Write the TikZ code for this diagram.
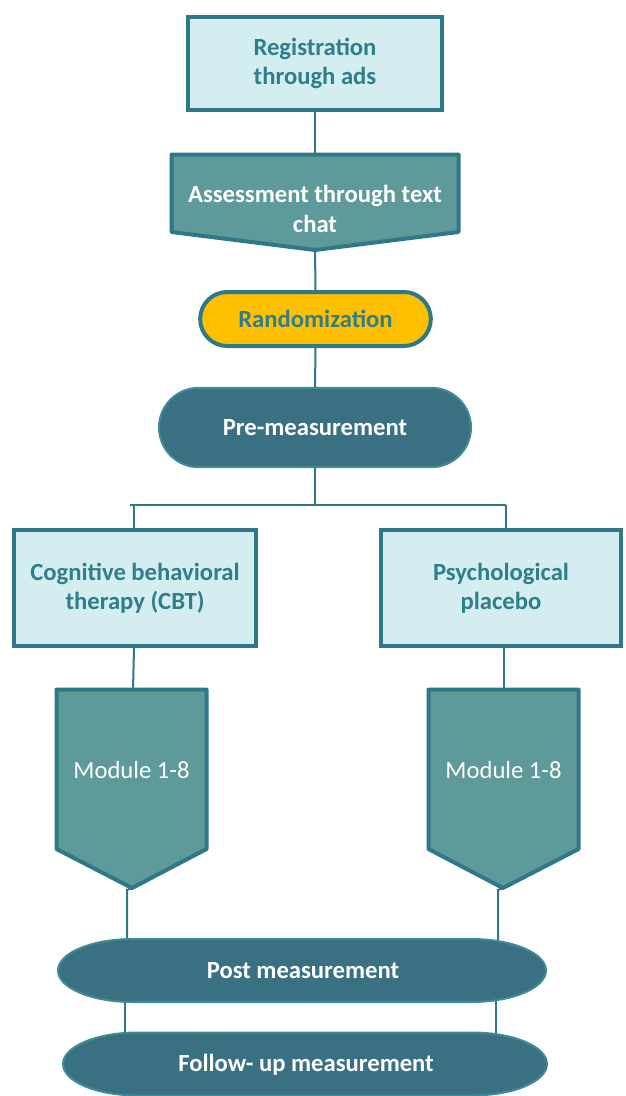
\documentclass[tikz,border=0pt]{standalone}
\usepackage{fontspec}
\setmainfont{Carlito}
\usetikzlibrary{shapes.misc,backgrounds}
\definecolor{bord}{RGB}{47,120,136}
\definecolor{lightfill}{RGB}{211,237,240}
\definecolor{tealtext}{RGB}{46,126,139}
\definecolor{midfill}{RGB}{94,154,153}
\definecolor{darkfill}{RGB}{58,113,130}
\definecolor{darkedge}{RGB}{64,138,150}
\definecolor{gold}{RGB}{255,192,0}
\tikzset{
  bigbold/.style={font=\fontsize{18.5}{22}\selectfont\bfseries},
  lbox/.style={rectangle, draw=bord, line width=3pt, fill=lightfill, text=tealtext,
    bigbold, align=center, inner sep=0pt},
  pill/.style={rounded rectangle, draw=darkedge, line width=1.5pt, fill=darkfill, text=white,
    bigbold, inner sep=0pt},
  ovalshape/.style={draw=darkedge, line width=1.5pt, fill=darkfill},
  arrowshape/.style={draw=bord, line width=3pt, fill=midfill, line join=round},
  wtext/.style={text=white, align=center, inner sep=0pt},
  conn/.style={draw=bord, line width=1.5pt},
}
\begin{document}
\begin{tikzpicture}[x=0.75pt,y=-0.75pt]
\useasboundingbox (0,0) rectangle (625,1096);
% Registration
\node[lbox, minimum width=190.5pt, minimum height=69.75pt] (reg) at (315,63.5) {Registration\\through ads};
% Assessment pentagon
\draw[arrowshape] (171.5,154.5) -- (458.5,154.5) -- (458.5,232) -- (315,250) -- (171.5,232) -- cycle;
\coordinate (asstop) at (315,154.5);
\coordinate (asstip) at (315,250);
\node[wtext, bigbold] (ass) at (315,209) {Assessment through text\\chat};
% Randomization
\node[rounded rectangle, draw=bord, line width=3pt, fill=gold, text=tealtext,
  bigbold, inner sep=0pt,
  minimum width=173pt, minimum height=40.5pt] (rand) at (315.5,319) {Randomization};
% Pre-measurement
\node[pill, minimum width=234pt, minimum height=59.5pt] (pre) at (315,427.5) {Pre-measurement};
% Branch boxes
\node[lbox, minimum width=181.5pt, minimum height=87pt] (cbt) at (135,588) {Cognitive behavioral\\therapy (CBT)};
\node[lbox, minimum width=180pt, minimum height=87pt] (psy) at (501,588) {Psychological\\placebo};
% Module pentagons
\draw[arrowshape] (56.5,689.5) -- (206.5,689.5) -- (206.5,849) -- (132,888) -- (56.5,849) -- cycle;
\coordinate (m1top) at (133,689.5);
\coordinate (m1tip) at (132,888);
\node[wtext, font=\fontsize{18.5}{22}\selectfont] (m1) at (131.5,770) {Module 1-8};
\draw[arrowshape] (428.5,689.5) -- (578.5,689.5) -- (578.5,849) -- (503,888) -- (428.5,849) -- cycle;
\coordinate (m2top) at (504,689.5);
\coordinate (m2tip) at (503,888);
\node[wtext, font=\fontsize{18.5}{22}\selectfont] (m2) at (503.5,770) {Module 1-8};
% Post / Follow-up flattened ovals
\draw[ovalshape, shift={(302,970.5)}] (-244,0) .. controls (-244,-17.4) and (-210.4,-31.5) .. (-169,-31.5)
  -- (169,-31.5) .. controls (210.4,-31.5) and (244,-17.4) .. (244,0)
  .. controls (244,17.4) and (210.4,31.5) .. (169,31.5) -- (-169,31.5)
  .. controls (-210.4,31.5) and (-244,17.4) .. cycle;
\node[wtext, bigbold] (post) at (303,971) {Post measurement};
\draw[ovalshape, shift={(305,1064)}] (-242,0) .. controls (-242,-17.4) and (-208.4,-31.5) .. (-167,-31.5)
  -- (167,-31.5) .. controls (208.4,-31.5) and (242,-17.4) .. (242,0)
  .. controls (242,17.4) and (208.4,31.5) .. (167,31.5) -- (-167,31.5)
  .. controls (-208.4,31.5) and (-242,17.4) .. cycle;
\node[wtext, bigbold] (fu) at (306,1065) {Follow- up measurement};
% connectors
\begin{scope}[on background layer]
\draw[conn] (reg.south) -- (asstop);
\draw[conn] (asstip) -- (rand.north);
\draw[conn] (rand.south) -- (pre.north);
\coordinate (bj) at (315,505);
\coordinate (bl) at (130,505);
\coordinate (br) at (506,505);
\draw[conn] (pre.south) -- (bj);
\draw[conn] (bl) -- (br);
\draw[conn] (134,505) -- (cbt.north -| 134,0);
\draw[conn] (506,505) -- (psy.north -| 506,0);
\draw[conn] (cbt.south -| 134,0) -- (m1top);
\draw[conn] (psy.south -| 504,0) -- (m2top);
\draw[conn] (m1tip) -- (127,890) -- (post.center -| 127,0);
\draw[conn] (m2tip) -- (498,890) -- (post.center -| 498,0);
\draw[conn] (post.center -| 125,0) -- (fu.center -| 125,0);
\draw[conn] (post.center -| 496,0) -- (fu.center -| 496,0);
\end{scope}
\end{tikzpicture}
\end{document}
